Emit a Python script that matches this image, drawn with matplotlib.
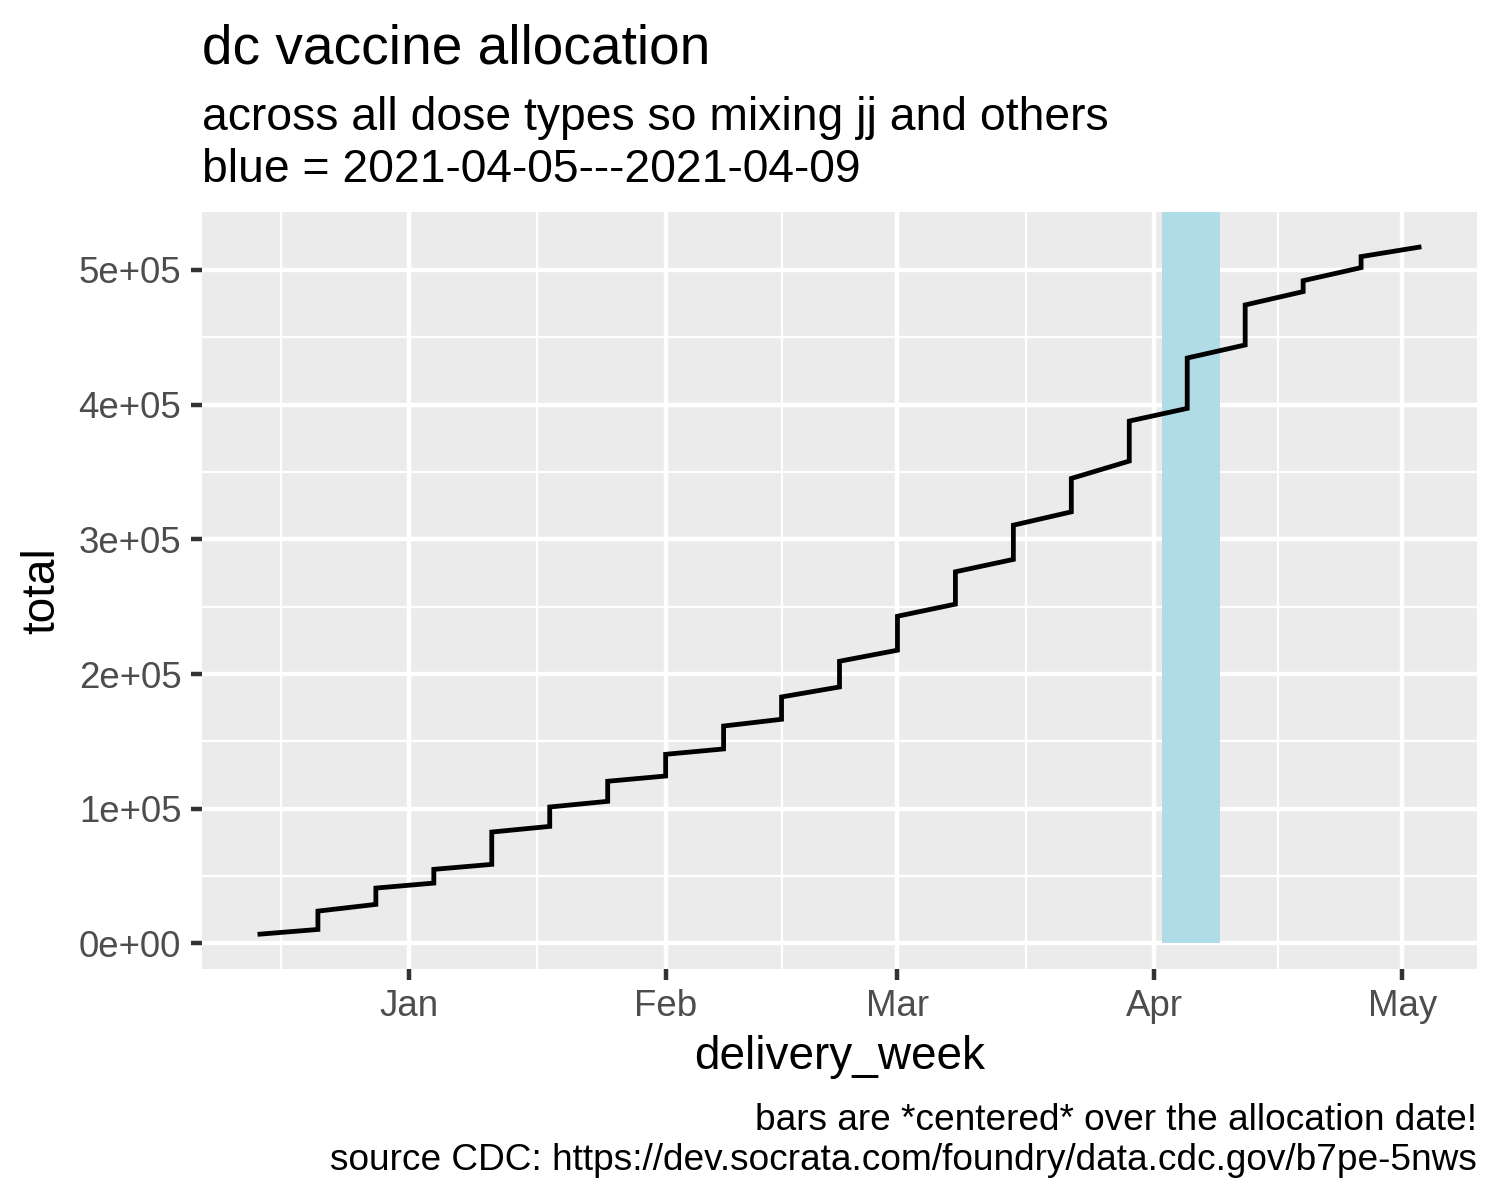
import numpy as np
import matplotlib
matplotlib.use('Agg')
import matplotlib.pyplot as plt
import matplotlib.dates as mdates

# weekly delivery dates (Mondays) and cumulative totals before / after each allocation
delivery_week = ['2020-12-14', '2020-12-21', '2020-12-28', '2021-01-04', '2021-01-11',
                 '2021-01-18', '2021-01-25', '2021-02-01', '2021-02-08', '2021-02-15',
                 '2021-02-22', '2021-03-01', '2021-03-08', '2021-03-15', '2021-03-22',
                 '2021-03-29', '2021-04-05', '2021-04-12', '2021-04-19', '2021-04-26',
                 '2021-05-03']
total_before = [6900, 10400, 29000, 44800, 58700, 86900, 105500, 124300, 144400, 166400,
                190400, 217700, 251900, 285100, 320400, 358100, 397200, 444300, 483900,
                501700, 516900]
total_after = [6900, 24000, 41100, 55000, 82700, 101300, 120400, 140400, 161400, 183000,
               209500, 242900, 275900, 310500, 345200, 387800, 434600, 474000, 492000,
               509900, 516900]

highlight_start = '2021-04-01 22:00'
highlight_end = '2021-04-08 22:00'

title = 'dc vaccine allocation'
subtitle = ['across all dose types so mixing jj and others', 'blue = 2021-04-05---2021-04-09']
caption = ['bars are *centered* over the allocation date!',
           'source CDC: https://dev.socrata.com/foundry/data.cdc.gov/b7pe-5nws']

plt.rcParams['font.family'] = ['Liberation Sans', 'DejaVu Sans']

W, H = 1500, 1200
fig = plt.figure(figsize=(5, 4), dpi=300)
L, R, T, B = 202, 1477, 212, 968.5
ax = fig.add_axes([L / W, 1 - B / H, (R - L) / W, (B - T) / H])
ax.set_facecolor('#EBEBEB')
for s in ax.spines.values():
    s.set_visible(False)

dates = [mdates.datestr2num(d) for d in delivery_week]
xs, ys = [dates[0]], [total_after[0]]
for i in range(1, len(dates)):
    xs += [dates[i], dates[i]]
    ys += [total_before[i], total_after[i]]

# highlight rectangle (drawn above grid)
hs = mdates.datestr2num(highlight_start)
he = mdates.datestr2num(highlight_end)
ax.fill_between([hs, he], 0, 1e7, color='#B0DCE8', lw=0, zorder=2)

ax.plot(xs, ys, color='black', lw=1.15, zorder=3, solid_joinstyle='miter')

xmin = dates[0] - 7
xmax = dates[-1] + 7
ymin, ymax = -18600, 543000
ax.set_xlim(xmin, xmax)
ax.set_ylim(ymin, ymax)

major_x = [mdates.datestr2num(d) for d in ['2021-01-01', '2021-02-01', '2021-03-01', '2021-04-01', '2021-05-01']]
minor_x = [mdates.datestr2num(d) for d in ['2020-12-16 12:00', '2021-01-16 12:00', '2021-02-15',
                                           '2021-03-16 12:00', '2021-04-16']]
ax.set_xticks(major_x)
ax.set_xticklabels(['Jan', 'Feb', 'Mar', 'Apr', 'May'])
ax.set_xticks(minor_x, minor=True)
yt = [0, 1e5, 2e5, 3e5, 4e5, 5e5]
ax.set_yticks(yt)
ax.set_yticklabels(['0e+00', '1e+05', '2e+05', '3e+05', '4e+05', '5e+05'])
ax.set_yticks([5e4, 1.5e5, 2.5e5, 3.5e5, 4.5e5], minor=True)

ax.grid(which='major', color='white', lw=1.07, zorder=1)
ax.grid(which='minor', color='white', lw=0.53, zorder=1)
ax.set_axisbelow(True)
ax.tick_params(which='major', length=2.75, width=1.07, color='#333333',
               labelsize=8.8, labelcolor='#4D4D4D', pad=2.2)
ax.tick_params(which='minor', length=0)

fig.text(L / W, 1 - 63.5 / H, title, fontsize=13.2, ha='left', va='baseline')
fig.text(L / W, 1 - 130.5 / H, subtitle[0], fontsize=11.1, ha='left', va='baseline')
fig.text(L / W, 1 - 181.5 / H, subtitle[1], fontsize=11.1, ha='left', va='baseline')
fig.text(R / W, 1 - 1130 / H, caption[0], fontsize=8.88, ha='right', va='baseline')
fig.text(R / W, 1 - 1170 / H, caption[1], fontsize=8.88, ha='right', va='baseline')

fig.text((L + R) / 2 / W, 1 - 1057 / H, 'delivery_week', fontsize=11, ha='center', va='center')
fig.text(42 / W, 1 - (T + B) / 2 / H, 'total', fontsize=11, ha='center', va='center', rotation=90)

fig.savefig('out.png', dpi=300, facecolor='white')
